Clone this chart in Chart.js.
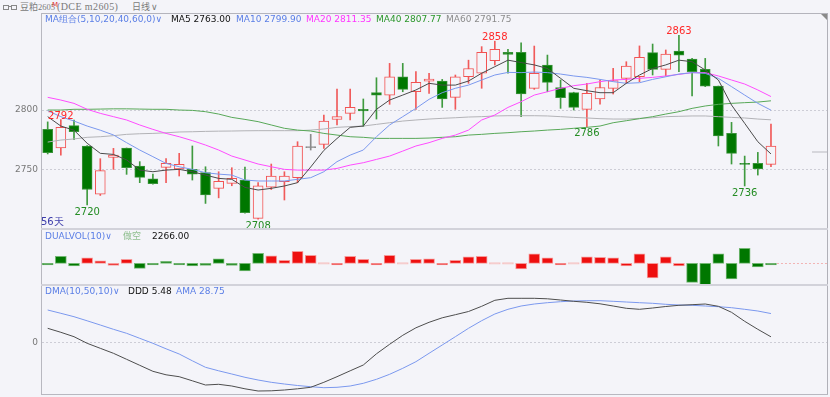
<!DOCTYPE html>
<html>
<head>
<meta charset="utf-8">
<script src="https://cdn.jsdelivr.net/npm/chart.js@4.4.1/dist/chart.umd.min.js"></script>
<style>
  body { margin: 0; width: 830px; height: 397px; overflow: hidden; position: relative; background: #f4f4f9; font-family: "DejaVu Sans", sans-serif; }
  canvas { position: absolute; left: 0; }
  .t { position: absolute; font-size: 9px; line-height: 12px; white-space: nowrap; }
  .h { position: absolute; font-size: 10px; line-height: 12px; white-space: nowrap; color: #7a7a7a; font-family: "Liberation Serif", serif; }
  .cjk { font-family: "Noto Sans CJK SC", sans-serif; font-size: 9px; }
  .ln { position: absolute; background: #c6c6ce; }
</style>
</head>
<body>

<!-- header -->
<div style="position:absolute;left:3px;top:5px;width:4px;height:3px;border:1px solid #888"></div>
<div style="position:absolute;left:9px;top:6px;width:2px;height:1px;background:#888"></div>
<div style="position:absolute;left:11px;top:5px;width:4px;height:3px;border:1px solid #888"></div>
<div class="h cjk" style="left:20px;top:1px">豆粕</div>
<div class="h" style="left:38px;top:1px;font-size:8.5px">2605</div>
<div class="h" style="left:52px;top:-1px;font-size:7px;color:#e03030;font-family:'DejaVu Sans',sans-serif">M</div>
<div class="h" style="left:57px;top:1px;letter-spacing:0.4px">(DCE m2605)</div>
<div class="h cjk" style="left:132px;top:1px">日线</div>
<div class="h" style="left:151px;top:1px;font-family:'DejaVu Sans',sans-serif;font-size:9px">∨</div>

<!-- frame lines -->
<div class="ln" style="left:41px;top:13px;width:787px;height:1px;background:#b4b4bc"></div>
<div class="ln" style="left:41px;top:13px;width:1px;height:382px;background:#b8b8c0"></div>
<div class="ln" style="left:827px;top:13px;width:1px;height:382px;background:#b0b0b8"></div>
<div class="ln" style="left:41px;top:228px;width:787px;height:2px;background:#d2d2da"></div>
<div class="ln" style="left:41px;top:284px;width:787px;height:2px;background:#d2d2da"></div>
<div class="ln" style="left:41px;top:394px;width:787px;height:1px;background:#b8b8c0"></div>
<div style="position:absolute;left:821px;top:14px;width:0;height:0;border-top:6px solid #8a8a8a;border-left:6px solid transparent"></div>

<canvas id="mainChart" width="830" height="214" style="top:14px"></canvas>
<canvas id="volChart" width="830" height="54" style="top:230px"></canvas>
<canvas id="dmaChart" width="830" height="108" style="top:286px"></canvas>

<!-- panel titles -->
<div class="t" style="left:45px;top:13px;color:#5a7ee6">MA组合(5,10,20,40,60,0)∨</div>
<div class="t" style="left:171px;top:13px;color:#111">MA5 2763.00</div>
<div class="t" style="left:236px;top:13px;color:#5a7ee6">MA10 2799.90</div>
<div class="t" style="left:306px;top:13px;color:#ff33ff">MA20 2811.35</div>
<div class="t" style="left:376px;top:13px;color:#2a962a">MA40 2807.77</div>
<div class="t" style="left:446px;top:13px;color:#8c8c8c">MA60 2791.75</div>
<div class="t" style="left:41px;top:216px;font-size:10px;color:#3c3caa">56天</div>

<div class="t" style="left:45px;top:230px;color:#5a7ee6">DUALVOL(10)∨</div>
<div class="t" style="left:123px;top:230px;color:#8fbf8f;font-family:'Noto Sans CJK SC',sans-serif">做空</div>
<div class="t" style="left:152px;top:230px;color:#111">2266.00</div>

<div class="t" style="left:45px;top:285px;color:#5a7ee6">DMA(10,50,10)∨</div>
<div class="t" style="left:128px;top:285px;color:#111">DDD 5.48</div>
<div class="t" style="left:176px;top:285px;color:#5a7ee6">AMA 28.75</div>

<script>
// ====== data ======
const opens  = [2783.7, 2768, 2786.8, 2769.7, 2729, 2760, 2768, 2752.8, 2742, 2751.7,
                2750.3, 2750, 2747.2, 2734, 2738.2, 2741, 2708.7, 2734.9, 2739.6, 2743,
                2768.3, 2771, 2792, 2797.2, 2800.6, 2814.6, 2812.6, 2828, 2815.4, 2824.4,
                2824.4, 2810.7, 2828, 2831, 2841.6, 2848.6, 2848.6, 2818.3, 2837.9, 2819,
                2814.6, 2800.6, 2809.3, 2818.3, 2826.7, 2828, 2848.3, 2834.3, 2849.7, 2843,
                2834.3, 2820.2, 2780.3, 2755, 2755, 2754.2];
const highs  = [2790, 2792, 2791.6, 2770, 2759, 2767.7, 2768, 2756.5, 2746, 2759,
                2763.5, 2769.7, 2752.2, 2748, 2751.4, 2752, 2738.8, 2754.5, 2748, 2773.3,
                2779.5, 2795.8, 2817.7, 2817.7, 2809.3, 2827.2, 2839.3, 2839.3, 2832.3, 2831,
                2825.8, 2829.5, 2842, 2853.4, 2858, 2851.1, 2856.7, 2853.9, 2846.3, 2825.3,
                2815, 2822.5, 2825.3, 2835.1, 2840.7, 2854, 2855.6, 2850.6, 2863, 2843.5,
                2843.5, 2820.2, 2789.6, 2761.2, 2764.3, 2788.2];
const lows   = [2763, 2762, 2775, 2720, 2728, 2750, 2745.8, 2738.8, 2737.6, 2738.8,
                2744.4, 2741, 2721.3, 2726, 2736.2, 2713, 2708, 2733, 2724.2, 2738.8,
                2766.3, 2767.7, 2787.4, 2791.6, 2786, 2792.4, 2804.8, 2815.4, 2800.6, 2814,
                2802.2, 2800.6, 2822.5, 2818.3, 2837.9, 2831, 2794.4, 2817.4, 2815.4, 2801.4,
                2800, 2786, 2805, 2813.5, 2822.5, 2823.9, 2829.5, 2828.7, 2832.3, 2811.8,
                2819.7, 2769.7, 2754.5, 2736, 2745.2, 2752.2];
const closes = [2764, 2785.4, 2781.7, 2733, 2749, 2762, 2751.4, 2743.3, 2738, 2755,
                2754.2, 2746, 2728.4, 2740, 2742.4, 2713.5, 2736.2, 2744.4, 2744.4, 2769.7,
                2768.3, 2790.7, 2794.4, 2802.2, 2799.2, 2812.6, 2828, 2817.4, 2823.3, 2826.1,
                2809.3, 2828, 2835, 2848.6, 2851.1, 2846.9, 2813.5, 2831, 2823.3, 2810.4,
                2802.2, 2814, 2819, 2824.7, 2837, 2844.4, 2834.3, 2847.2, 2846.3, 2832.3,
                2820.2, 2778.1, 2763.5, 2754.2, 2750.3, 2769.7];

const ma5  = [2794.4, 2786.5, 2783, 2772, 2763.5, 2762.6, 2758, 2749.4, 2748, 2749.4,
              2750, 2748, 2745.2, 2742.4, 2741.6, 2734.8, 2732.6, 2734, 2736, 2738.8,
              2752, 2766, 2776, 2785.4, 2786.5, 2800.6, 2808.4, 2812.6, 2816.9, 2822.5,
              2821, 2821, 2824.4, 2831, 2836.5, 2842, 2840, 2838, 2835, 2826.7,
              2818.3, 2816.3, 2814.6, 2814.6, 2822.5, 2829.5, 2835, 2838, 2842, 2840.7,
              2833.7, 2825.3, 2804.2, 2788.8, 2773.3, 2763];
const ma10 = [2799.4, 2794.4, 2790.7, 2786.5, 2783, 2779, 2772.5, 2766.3, 2760.7, 2755,
              2752.2, 2750, 2747.2, 2746, 2745.2, 2741, 2740.2, 2740.2, 2740.2, 2741.6,
              2743, 2748, 2756.5, 2762, 2766.3, 2777.5, 2787.4, 2794.4, 2801.4, 2809,
              2814.6, 2818.3, 2821, 2825.3, 2829.5, 2831.7, 2831.5, 2832, 2831.5, 2830.3,
              2828.7, 2827.5, 2825.8, 2823.9, 2822.5, 2823, 2825.8, 2828, 2830.3, 2831.5,
              2830.9, 2826.7, 2819.7, 2812.6, 2805.6, 2799.9];
const ma20 = [2810.7, 2808.4, 2805.6, 2800.6, 2797.2, 2794.4, 2791.6, 2787.4, 2783.7, 2780.3,
              2777.5, 2774.2, 2770.5, 2766.3, 2761.2, 2757.9, 2754.5, 2752.2, 2750, 2749.4,
              2749.4, 2749.4, 2750.8, 2753.6, 2755.6, 2758.4, 2761.2, 2765.4, 2769.7, 2772.5,
              2776.1, 2778.9, 2783.1, 2791.6, 2795.8, 2802.2, 2807, 2812.6, 2815.4, 2818.3,
              2820.5, 2821.9, 2823.9, 2825.3, 2825.8, 2826.7, 2827.5, 2828.7, 2830, 2831.5,
              2831.5, 2828.7, 2825.3, 2821.9, 2816.9, 2811.35];
const ma40 = [2800, 2800, 2800.6, 2800.6, 2800.8, 2801, 2801, 2800.8, 2800.6, 2800.6,
              2800, 2799.7, 2798.6, 2796.6, 2793.8, 2792.1, 2790.2, 2787.4, 2784.6, 2783.1,
              2782.3, 2780.3, 2778.9, 2777.5, 2777, 2776.1, 2776.1, 2776.1, 2776.1, 2776.4,
              2777, 2777.5, 2778.9, 2779.5, 2780.3, 2780.9, 2781.7, 2782.3, 2783.1, 2783.7,
              2784.6, 2785.4, 2786.5, 2789.3, 2791, 2792.7, 2794.4, 2796.6, 2798.6, 2801.4,
              2803.4, 2804.8, 2805.6, 2806.2, 2806.7, 2807.77];
const ma60 = [2773, 2774.7, 2775.6, 2777, 2777.5, 2778.4, 2779.5, 2780, 2780.3, 2780.8,
              2781.5, 2781.7, 2782, 2782.2, 2782.3, 2782.5, 2782.6, 2782.6, 2782.6, 2782.6,
              2783.1, 2784, 2785.4, 2786, 2786.5, 2787.9, 2789.3, 2790.7, 2791.6, 2792.4,
              2793, 2793.5, 2794.1, 2794.4, 2795, 2795.2, 2795.2, 2795.2, 2795, 2794.4,
              2793.8, 2793.3, 2792.7, 2792.4, 2792.4, 2793, 2793.5, 2794.4, 2794.7, 2795,
              2795, 2794.4, 2793.8, 2793.3, 2792.4, 2791.75];

// DUALVOL bars: red and green columns (null = none)
const dualVolRed   = [null, null, null, 550, 250, -200, 400, null, null, null,
                      null, null, null, null, null, null, null, 750, 300, 1200,
                      800, 0, -100, 700, 400, -70, 800, 0, 400, 450,
                      -100, 300, 650, 700, 0, 0, -550, 950, 550, -150,
                      0, 650, 600, 550, -250, 950, -1450, 650, -250, null,
                      null, null, null, null, null, null];
const dualVolGreen = [-100, 700, -250, null, null, null, null, -500, -100, 200,
                      -70, -250, -200, 450, -200, -750, 1000, null, null, null,
                      null, null, null, null, null, null, null, null, null, null,
                      null, null, null, null, null, null, null, null, null, null,
                      null, null, null, null, null, null, null, null, null, -1900,
                      -2150, 950, -1550, 1500, -350, -70];

const dmaDDD = [14, 10, 5.6, -1, -6, -11, -17, -23, -29, -32.5,
                -34.4, -38.5, -42.7, -42, -43.7, -46.5, -48.7, -48.5, -47.7, -46.5,
                -45, -40, -34.4, -28.5, -22.7, -11.5, -2, 7, 14.5, 20,
                24.5, 27.6, 30.8, 36, 42, 44, 44, 44, 43.5, 42.3,
                41, 40, 38.5, 36.3, 34, 33, 34.3, 35.8, 37, 37.6,
                38.3, 36, 30, 21, 13, 5.48];
const dmaAMA = [32.3, 29, 25.6, 21.5, 17.3, 13, 9, 4, -1, -6.5,
                -11.7, -18.5, -25, -28.5, -31.7, -35, -37.7, -40, -41.7, -43.2,
                -44.4, -45.4, -45, -43.7, -41, -37, -32, -26, -19.4, -11,
                -2.7, 5.6, 14, 21.6, 28.3, 33, 36.3, 38.3, 39.6, 40.6,
                41.3, 41.6, 41.6, 41, 40.3, 39.6, 39, 38, 37.3, 37,
                36.3, 35.6, 34.6, 33, 31.3, 28.75];

const priceTicks = [2750, 2800];
const dmaTicks = [0];
// extreme price labels: [index, 'high' | 'low']
const extremeMarks = [[1, 'high'], [3, 'low'], [16, 'low'], [34, 'high'], [41, 'low'], [48, 'high'], [53, 'low']];
const lastPriceMark = 2764.6;

// ====== shared settings ======
const BG = '#f4f4f9';
const X_MIN = -0.433, X_MAX = 59.26;
const FONT = 'DejaVu Sans';

const xScale = { type: 'linear', min: X_MIN, max: X_MAX, display: false, offset: false };

function leftAxis(min, max, ticks) {
  return {
    type: 'linear', position: 'left', min: min, max: max,
    afterBuildTicks: (ax) => { ax.ticks = (ticks || []).map((v) => ({ value: v })); },
    afterFit: (ax) => { ax.width = 42; ax.paddingTop = 0; ax.paddingBottom = 0; },
    ticks: { display: !!ticks, color: '#777', font: { family: FONT, size: 9 }, padding: 4, callback: (v) => String(v) },
    grid: { display: !!ticks, color: '#cdcdd6', drawTicks: false, lineWidth: 1 },
    border: { display: false, dash: [2, 2] },
  };
}

const baseOptions = {
  responsive: false,
  animation: false,
  events: [],
  layout: { padding: { left: 0, right: 3, top: 0, bottom: 0 } },
  plugins: { legend: { display: false }, tooltip: { enabled: false } },
};

const pts = (arr) => arr.map((v, i) => ({ x: i, y: v }));

// ====== candle chart ======
const isUp = (i) => closes[i] > opens[i];
const isFlat = (i) => closes[i] === opens[i];

function wickColor(i) {
  if (isFlat(i)) return '#8a8a8a';
  return isUp(i) ? '#f05a5a' : '#3f9a3f';
}

const maLine = (label, arr, color) => ({
  type: 'line', label: label, data: pts(arr), borderColor: color, borderWidth: 1,
  pointRadius: 0, tension: 0, fill: false, order: 0,
});

const candleLabels = {
  id: 'candleLabels',
  afterDatasetsDraw(chart) {
    const { ctx, scales, chartArea } = chart;
    ctx.save();
    ctx.font = '10px ' + FONT;
    ctx.textAlign = 'center';
    extremeMarks.forEach(([i, kind]) => {
      const x = scales.x.getPixelForValue(i);
      if (kind === 'high') {
        ctx.fillStyle = '#ff2a2a';
        ctx.textBaseline = 'alphabetic';
        ctx.fillText(String(Math.round(highs[i])), x, scales.y.getPixelForValue(highs[i]) - 1);
      } else {
        ctx.fillStyle = '#238c23';
        ctx.textBaseline = 'top';
        ctx.fillText(String(Math.round(lows[i])), x, scales.y.getPixelForValue(lows[i]) + 2);
      }
    });
    // last price tab at right edge
    const py = scales.y.getPixelForValue(lastPriceMark);
    ctx.fillStyle = '#d6d6dc';
    ctx.fillRect(chartArea.right - 15, Math.round(py) - 1, 15, 2);
    ctx.restore();
  },
};

new Chart(document.getElementById('mainChart'), {
  type: 'bar',
  data: {
    datasets: [
      maLine('MA5', ma5, '#4a4a4a'),
      maLine('MA10', ma10, '#7b98ee'),
      maLine('MA20', ma20, '#ff4cff'),
      maLine('MA40', ma40, '#58a858'),
      maLine('MA60', ma60, '#b2b2b6'),
      {
        label: 'body',
        data: opens.map((o, i) => ({ x: i, y: [o, closes[i]] })),
        barThickness: 10,
        grouped: false,
        minBarLength: 1,
        borderWidth: 1,
        borderSkipped: false,
        backgroundColor: (c) => (isFlat(c.dataIndex) ? '#8a8a8a' : isUp(c.dataIndex) ? BG : '#007700'),
        borderColor: (c) => (isFlat(c.dataIndex) ? '#8a8a8a' : isUp(c.dataIndex) ? '#f25252' : '#3a933a'),
        order: 1,
      },
      {
        label: 'wick',
        data: lows.map((l, i) => ({ x: i, y: [l, highs[i]] })),
        barThickness: 1,
        grouped: false,
        borderWidth: 0,
        backgroundColor: (c) => wickColor(c.dataIndex),
        order: 2,
      },
    ],
  },
  options: {
    ...baseOptions,
    scales: { x: xScale, y: leftAxis(2700.6, 2880.9, priceTicks) },
  },
  plugins: [candleLabels],
});

// ====== DUALVOL chart ======
const volTail = {
  id: 'volTail',
  afterDatasetsDraw(chart) {
    const { ctx, scales, chartArea } = chart;
    const y = Math.round(scales.y.getPixelForValue(0)) + 0.5;
    ctx.save();
    ctx.strokeStyle = '#f2b4b4';
    ctx.setLineDash([2, 2]);
    ctx.beginPath();
    ctx.moveTo(scales.x.getPixelForValue(closes.length - 1) + 6, y);
    ctx.lineTo(chartArea.right, y);
    ctx.stroke();
    ctx.restore();
  },
};

new Chart(document.getElementById('volChart'), {
  type: 'bar',
  data: {
    datasets: [
      {
        label: 'red',
        data: pts(dualVolRed),
        barThickness: 11,
        grouped: false,
        minBarLength: 1.5,
        borderWidth: 1,
        borderSkipped: false,
        backgroundColor: (c) => (c.raw && c.raw.y === 0 ? '#f6c4c4' : '#ee0f0f'),
        borderColor: (c) => (c.raw && c.raw.y === 0 ? '#f6c4c4' : '#f69a9a'),
      },
      {
        label: 'green',
        data: pts(dualVolGreen),
        barThickness: 11,
        grouped: false,
        minBarLength: 1.5,
        borderWidth: 1,
        borderSkipped: false,
        backgroundColor: '#007700',
        borderColor: '#74b874',
      },
    ],
  },
  options: {
    ...baseOptions,
    scales: { x: xScale, y: leftAxis(-2070, 3330, null) },
  },
  plugins: [volTail],
});

// ====== DMA chart ======
new Chart(document.getElementById('dmaChart'), {
  type: 'line',
  data: {
    datasets: [
      { label: 'DDD', data: pts(dmaDDD), borderColor: '#4d4d4d', borderWidth: 1, pointRadius: 0, tension: 0 },
      { label: 'AMA', data: pts(dmaAMA), borderColor: '#7b98ee', borderWidth: 1, pointRadius: 0, tension: 0 },
    ],
  },
  options: {
    ...baseOptions,
    scales: { x: xScale, y: leftAxis(-51.7, 56.3, dmaTicks) },
  },
});
</script>
</body>
</html>
